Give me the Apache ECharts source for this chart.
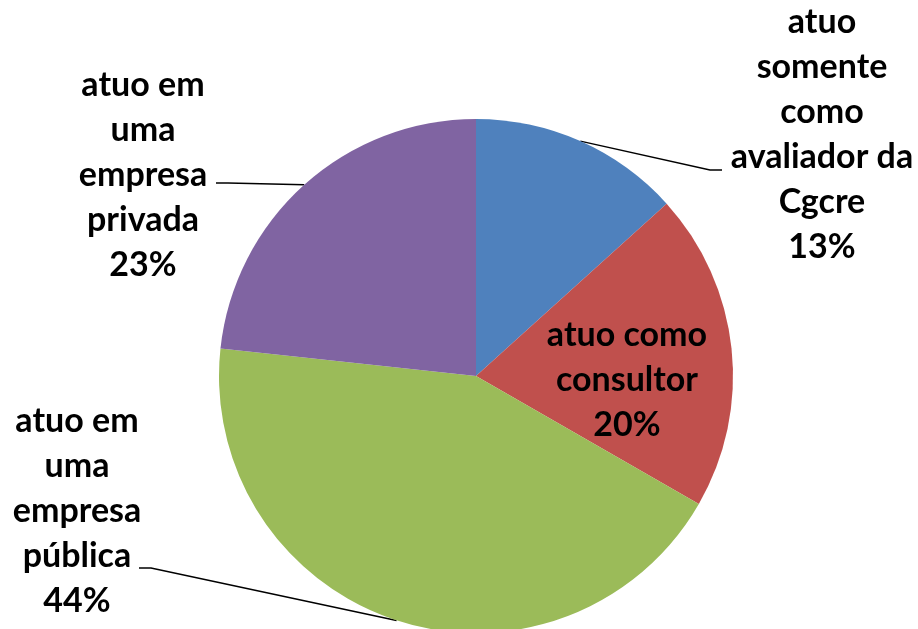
<!DOCTYPE html>
<html>
<head>
<meta charset="utf-8">
<script src="https://cdn.jsdelivr.net/npm/echarts@6/dist/echarts.min.js"></script>
<style>
  html, body { margin: 0; padding: 0; background: #fff; }
  #main { width: 918px; height: 629px; }
</style>
</head>
<body>
<div id="main"></div>
<script>
// categories and values (percent; labels rounded by echarts)
const names = [
  'atuo\nsomente\ncomo\navaliador da\nCgcre',
  'atuo como\nconsultor',
  'atuo em\numa\nempresa\npública',
  'atuo em\numa\nempresa\nprivada'
]
const values = [13.3, 20.0, 43.4, 23.3]
const colors = ['#4F81BD', '#C0504D', '#9BBB59', '#8064A2']

// label anchor (center of text block) and where the leader line meets the text
const labelAnchor = [[822, 135], [627, 380], [77, 511], [143, 175]]
const lineEnd = [[722, 170], null, [139, 568], [216, 183]]

const myChart = echarts.init(document.getElementById('main'))
myChart.setOption({
  animation: false,
  series: [
    {
      type: 'pie',
      center: [476, 376],
      radius: 257,
      startAngle: 90,
      clockwise: true,
      percentPrecision: 0,
      label: {
        show: true,
        formatter: '{b}\n{d}%',
        fontFamily: 'Lato',
        fontWeight: 'bold',
        fontSize: 34,
        lineHeight: 45,
        color: '#000',
        align: 'center'
      },
      labelLine: {
        show: true,
        length: 20,
        length2: 10,
        lineStyle: { color: '#000', width: 1.5 }
      },
      labelLayout: (params) => {
        const i = params.dataIndex
        const out = {
          x: labelAnchor[i][0],
          y: labelAnchor[i][1],
          align: 'center',
          verticalAlign: 'middle'
        }
        if (lineEnd[i] && params.labelLinePoints) {
          const p0 = params.labelLinePoints[0]
          const e = lineEnd[i]
          const dir = e[0] > p0[0] ? 1 : -1
          out.labelLinePoints = [p0, [e[0] - dir * 12, e[1]], e]
        }
        return out
      },
      data: names.map((n, i) => ({
        name: n,
        value: values[i],
        itemStyle: { color: colors[i] },
        label: i === 1 ? { position: 'inside' } : {},
        labelLine: i === 1 ? { show: false } : {}
      }))
    }
  ]
})
</script>
</body>
</html>
